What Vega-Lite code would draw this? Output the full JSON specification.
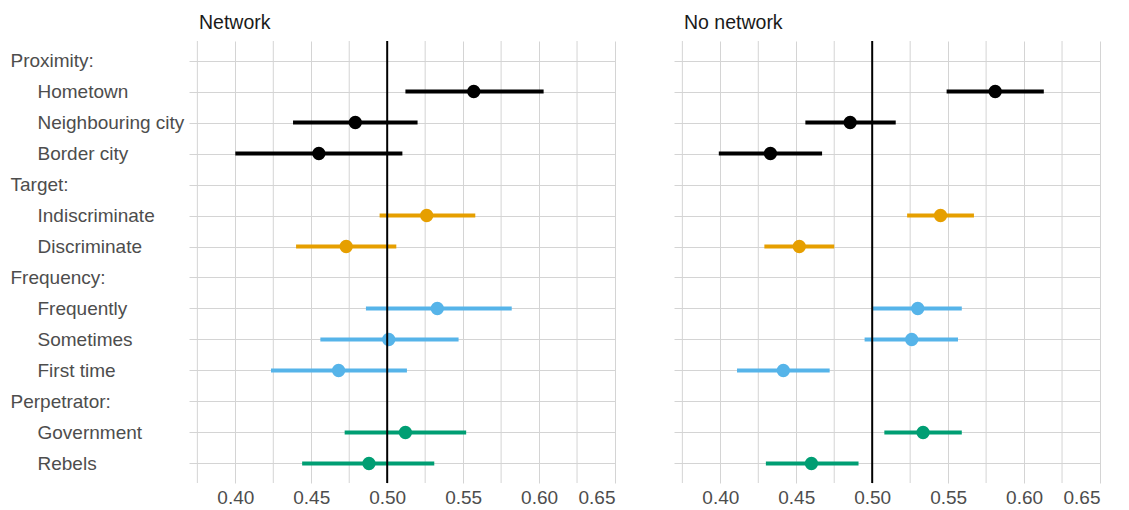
{
  "$schema": "https://vega.github.io/schema/vega-lite/v6.json",
  "padding": {"left": 10, "top": 12, "right": 5, "bottom": 1},
  "config": {
    "font": "Liberation Sans",
    "view": {"stroke": null},
    "axis": {"gridColor": "#d4d4d4", "gridWidth": 1, "domain": false, "ticks": false, "tickSize": 0, "title": null},
    "title": {"anchor": "start", "frame": "group", "fontSize": 19.5, "fontWeight": "normal", "color": "#1a1a1a", "dx": 10, "offset": 7}
  },
  "datasets": {
    "est": [
      {"panel": "Network", "group": "Proximity", "label": "Hometown", "est": 0.557, "lo": 0.512, "hi": 0.603},
      {"panel": "Network", "group": "Proximity", "label": "Neighbouring city", "est": 0.479, "lo": 0.438, "hi": 0.520},
      {"panel": "Network", "group": "Proximity", "label": "Border city", "est": 0.455, "lo": 0.400, "hi": 0.510},
      {"panel": "Network", "group": "Target", "label": "Indiscriminate", "est": 0.526, "lo": 0.495, "hi": 0.558},
      {"panel": "Network", "group": "Target", "label": "Discriminate", "est": 0.473, "lo": 0.440, "hi": 0.506},
      {"panel": "Network", "group": "Frequency", "label": "Frequently", "est": 0.533, "lo": 0.486, "hi": 0.582},
      {"panel": "Network", "group": "Frequency", "label": "Sometimes", "est": 0.501, "lo": 0.456, "hi": 0.547},
      {"panel": "Network", "group": "Frequency", "label": "First time", "est": 0.468, "lo": 0.4235, "hi": 0.513},
      {"panel": "Network", "group": "Perpetrator", "label": "Government", "est": 0.512, "lo": 0.472, "hi": 0.552},
      {"panel": "Network", "group": "Perpetrator", "label": "Rebels", "est": 0.488, "lo": 0.444, "hi": 0.531},
      {"panel": "No network", "group": "Proximity", "label": "Hometown", "est": 0.581, "lo": 0.549, "hi": 0.613},
      {"panel": "No network", "group": "Proximity", "label": "Neighbouring city", "est": 0.4855, "lo": 0.456, "hi": 0.5155},
      {"panel": "No network", "group": "Proximity", "label": "Border city", "est": 0.433, "lo": 0.399, "hi": 0.467},
      {"panel": "No network", "group": "Target", "label": "Indiscriminate", "est": 0.545, "lo": 0.523, "hi": 0.567},
      {"panel": "No network", "group": "Target", "label": "Discriminate", "est": 0.452, "lo": 0.429, "hi": 0.475},
      {"panel": "No network", "group": "Frequency", "label": "Frequently", "est": 0.530, "lo": 0.5005, "hi": 0.559},
      {"panel": "No network", "group": "Frequency", "label": "Sometimes", "est": 0.526, "lo": 0.495, "hi": 0.5565},
      {"panel": "No network", "group": "Frequency", "label": "First time", "est": 0.4415, "lo": 0.411, "hi": 0.472},
      {"panel": "No network", "group": "Perpetrator", "label": "Government", "est": 0.5335, "lo": 0.508, "hi": 0.559},
      {"panel": "No network", "group": "Perpetrator", "label": "Rebels", "est": 0.460, "lo": 0.430, "hi": 0.491}
    ],
    "ref": [{"ref": 0.5}],
    "minor": [{"v": 0.375}, {"v": 0.425}, {"v": 0.475}, {"v": 0.525}, {"v": 0.575}, {"v": 0.625}]
  },
  "spacing": 59,
  "hconcat": [
    {
      "title": "Network",
      "width": 426,
      "height": 442,
      "resolve": {"scale": {"y": "independent"}, "axis": {"y": "independent"}},
      "layer": [
        {
          "data": {"name": "minor"},
          "mark": {"type": "rule", "color": "#d4d4d4", "strokeWidth": 1},
          "encoding": {"x": {"field": "v", "type": "quantitative"}}
        },
        {
          "data": {"name": "est"},
          "transform": [{"filter": "datum.panel == 'Network'"}],
          "mark": {"type": "rule", "strokeWidth": 4},
          "encoding": {
            "x": {"field": "lo", "type": "quantitative",
              "scale": {"domain": [0.3695, 0.65], "nice": false, "zero": false},
              "axis": {"values": [0.4, 0.45, 0.5, 0.55, 0.6, 0.65], "format": ".2f",
                "labelOverlap": false, "labelFontSize": 19, "labelColor": "#4d4d4d", "labelPadding": 5, "grid": true, "title": null}},
            "x2": {"field": "hi"},
            "y": {"field": "label", "type": "ordinal",
              "scale": {"type": "point", "padding": 0.63, "domain": ["Proximity:", "Hometown", "Neighbouring city", "Border city", "Target:", "Indiscriminate", "Discriminate", "Frequency:", "Frequently", "Sometimes", "First time", "Perpetrator:", "Government", "Rebels"]},
              "axis": {"orient": "left", "values": ["Hometown", "Neighbouring city", "Border city", "Indiscriminate", "Discriminate", "Frequently", "Sometimes", "First time", "Government", "Rebels"],
                "grid": true, "labelAlign": "left", "labelPadding": 152, "labelFontSize": 19, "labelColor": "#4d4d4d", "labelOverlap": false, "title": null}},
            "color": {"field": "group", "type": "nominal", "legend": null,
              "scale": {"domain": ["Proximity", "Target", "Frequency", "Perpetrator"], "range": ["#000000", "#E69F00", "#56B4E9", "#009E73"]}}
          }
        },
        {
          "data": {"name": "est"},
          "transform": [{"filter": "datum.panel == 'Network'"}],
          "mark": {"type": "point", "filled": true, "size": 177, "opacity": 1},
          "encoding": {
            "x": {"field": "est", "type": "quantitative"},
            "y": {"field": "label", "type": "ordinal",
              "scale": {"type": "point", "padding": 0.63, "domain": ["Proximity:", "Hometown", "Neighbouring city", "Border city", "Target:", "Indiscriminate", "Discriminate", "Frequency:", "Frequently", "Sometimes", "First time", "Perpetrator:", "Government", "Rebels"]},
              "axis": {"orient": "left", "values": ["Proximity:", "Target:", "Frequency:", "Perpetrator:"],
                "grid": true, "labelAlign": "left", "labelPadding": 179, "labelFontSize": 19, "labelColor": "#4d4d4d", "labelOverlap": false, "title": null}},
            "color": {"field": "group", "type": "nominal", "legend": null}
          }
        },
        {
          "data": {"name": "ref"},
          "mark": {"type": "rule", "color": "#000000", "strokeWidth": 2},
          "encoding": {"x": {"field": "ref", "type": "quantitative"}}
        }
      ]
    },
    {
      "title": "No network",
      "width": 426,
      "height": 442,
      "layer": [
        {
          "data": {"name": "minor"},
          "mark": {"type": "rule", "color": "#d4d4d4", "strokeWidth": 1},
          "encoding": {"x": {"field": "v", "type": "quantitative"}}
        },
        {
          "data": {"name": "est"},
          "transform": [{"filter": "datum.panel == 'No network'"}],
          "mark": {"type": "rule", "strokeWidth": 4},
          "encoding": {
            "x": {"field": "lo", "type": "quantitative",
              "scale": {"domain": [0.3695, 0.65], "nice": false, "zero": false},
              "axis": {"values": [0.4, 0.45, 0.5, 0.55, 0.6, 0.65], "format": ".2f",
                "labelOverlap": false, "labelFontSize": 19, "labelColor": "#4d4d4d", "labelPadding": 5, "grid": true, "title": null}},
            "x2": {"field": "hi"},
            "y": {"field": "label", "type": "ordinal",
              "scale": {"type": "point", "padding": 0.63, "domain": ["Proximity:", "Hometown", "Neighbouring city", "Border city", "Target:", "Indiscriminate", "Discriminate", "Frequency:", "Frequently", "Sometimes", "First time", "Perpetrator:", "Government", "Rebels"]},
              "axis": {"grid": true, "labels": false, "title": null}},
            "color": {"field": "group", "type": "nominal", "legend": null,
              "scale": {"domain": ["Proximity", "Target", "Frequency", "Perpetrator"], "range": ["#000000", "#E69F00", "#56B4E9", "#009E73"]}}
          }
        },
        {
          "data": {"name": "est"},
          "transform": [{"filter": "datum.panel == 'No network'"}],
          "mark": {"type": "point", "filled": true, "size": 177, "opacity": 1},
          "encoding": {
            "x": {"field": "est", "type": "quantitative"},
            "y": {"field": "label", "type": "ordinal"},
            "color": {"field": "group", "type": "nominal", "legend": null}
          }
        },
        {
          "data": {"name": "ref"},
          "mark": {"type": "rule", "color": "#000000", "strokeWidth": 2},
          "encoding": {"x": {"field": "ref", "type": "quantitative"}}
        }
      ]
    }
  ]
}
